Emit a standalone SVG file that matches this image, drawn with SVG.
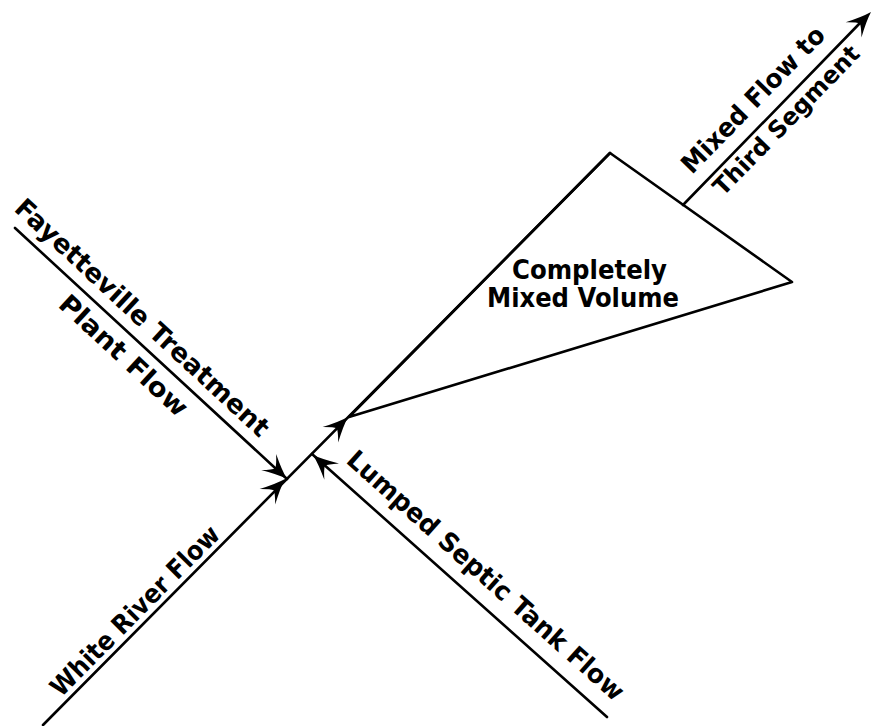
<svg xmlns="http://www.w3.org/2000/svg" width="874" height="726" viewBox="0 0 874 726">
  <style>
    .ln { stroke: #000; stroke-width: 2.6; fill: none; stroke-linecap: round; stroke-linejoin: round; }
    .lb { font-family: "DejaVu Sans", "Liberation Sans", sans-serif; font-weight: bold; font-size: 26px; fill: #000; }
    .sm { font-size: 24px; }
    .ah { fill: #000; }
  </style>
  <defs>
    <!-- swept arrowhead, tip at the origin, pointing along +x -->
    <path id="ah" class="ah" d="M0,0 Q-10,-3 -25,-11 Q-17,-3 -16,0 Q-17,3 -25,11 Q-10,3 0,0 Z"/>
  </defs>
  <rect width="874" height="726" fill="#fff"/>

  <g id="connectors">
    <!-- White River flow, continuing as the left edge of the mixed volume -->
    <path class="ln" d="M43,725 L610,153"/>
    <!-- Fayetteville treatment plant inflow -->
    <path class="ln" d="M15,228 L287,479"/>
    <!-- lumped septic tank inflow -->
    <path class="ln" d="M607,717 L312,454"/>
    <!-- outflow to the third segment -->
    <path class="ln" d="M683,205 L860,23"/>
    <use href="#ah" transform="translate(285,479) rotate(-45.25)"/>
    <use href="#ah" transform="translate(287,479) rotate(42.8)"/>
    <use href="#ah" transform="translate(348,417) rotate(-45.25)"/>
    <use href="#ah" transform="translate(313,455) rotate(221.7)"/>
    <use href="#ah" transform="translate(871,12) rotate(-45.75)"/>
  </g>

  <g id="mixed-volume">
    <polygon class="ln" points="349,417 610,153 792,282"/>
    <text class="lb" x="512" y="279" textLength="155" lengthAdjust="spacingAndGlyphs">Completely</text>
    <text class="lb" x="487" y="307" textLength="192" lengthAdjust="spacingAndGlyphs">Mixed Volume</text>
  </g>

  <g id="white-river">
    <text class="lb" transform="translate(61,698) rotate(-45.25)" textLength="228" lengthAdjust="spacingAndGlyphs">White River Flow</text>
  </g>

  <g id="fayetteville">
    <text class="lb" transform="translate(13,210) rotate(42.8)" textLength="336" lengthAdjust="spacingAndGlyphs">Fayetteville Treatment</text>
    <text class="lb" transform="translate(57,306) rotate(42.8)" textLength="165" lengthAdjust="spacingAndGlyphs">Plant Flow</text>
  </g>

  <g id="septic">
    <text class="lb" transform="translate(345,462) rotate(41.7)" textLength="361" lengthAdjust="spacingAndGlyphs">Lumped Septic Tank Flow</text>
  </g>

  <g id="third-segment">
    <text class="lb" transform="translate(692,175) rotate(-45.75)" textLength="193" lengthAdjust="spacingAndGlyphs">Mixed Flow to</text>
    <text class="lb sm" transform="translate(723,197) rotate(-45.75)" textLength="198" lengthAdjust="spacingAndGlyphs">Third Segment</text>
  </g>
</svg>
